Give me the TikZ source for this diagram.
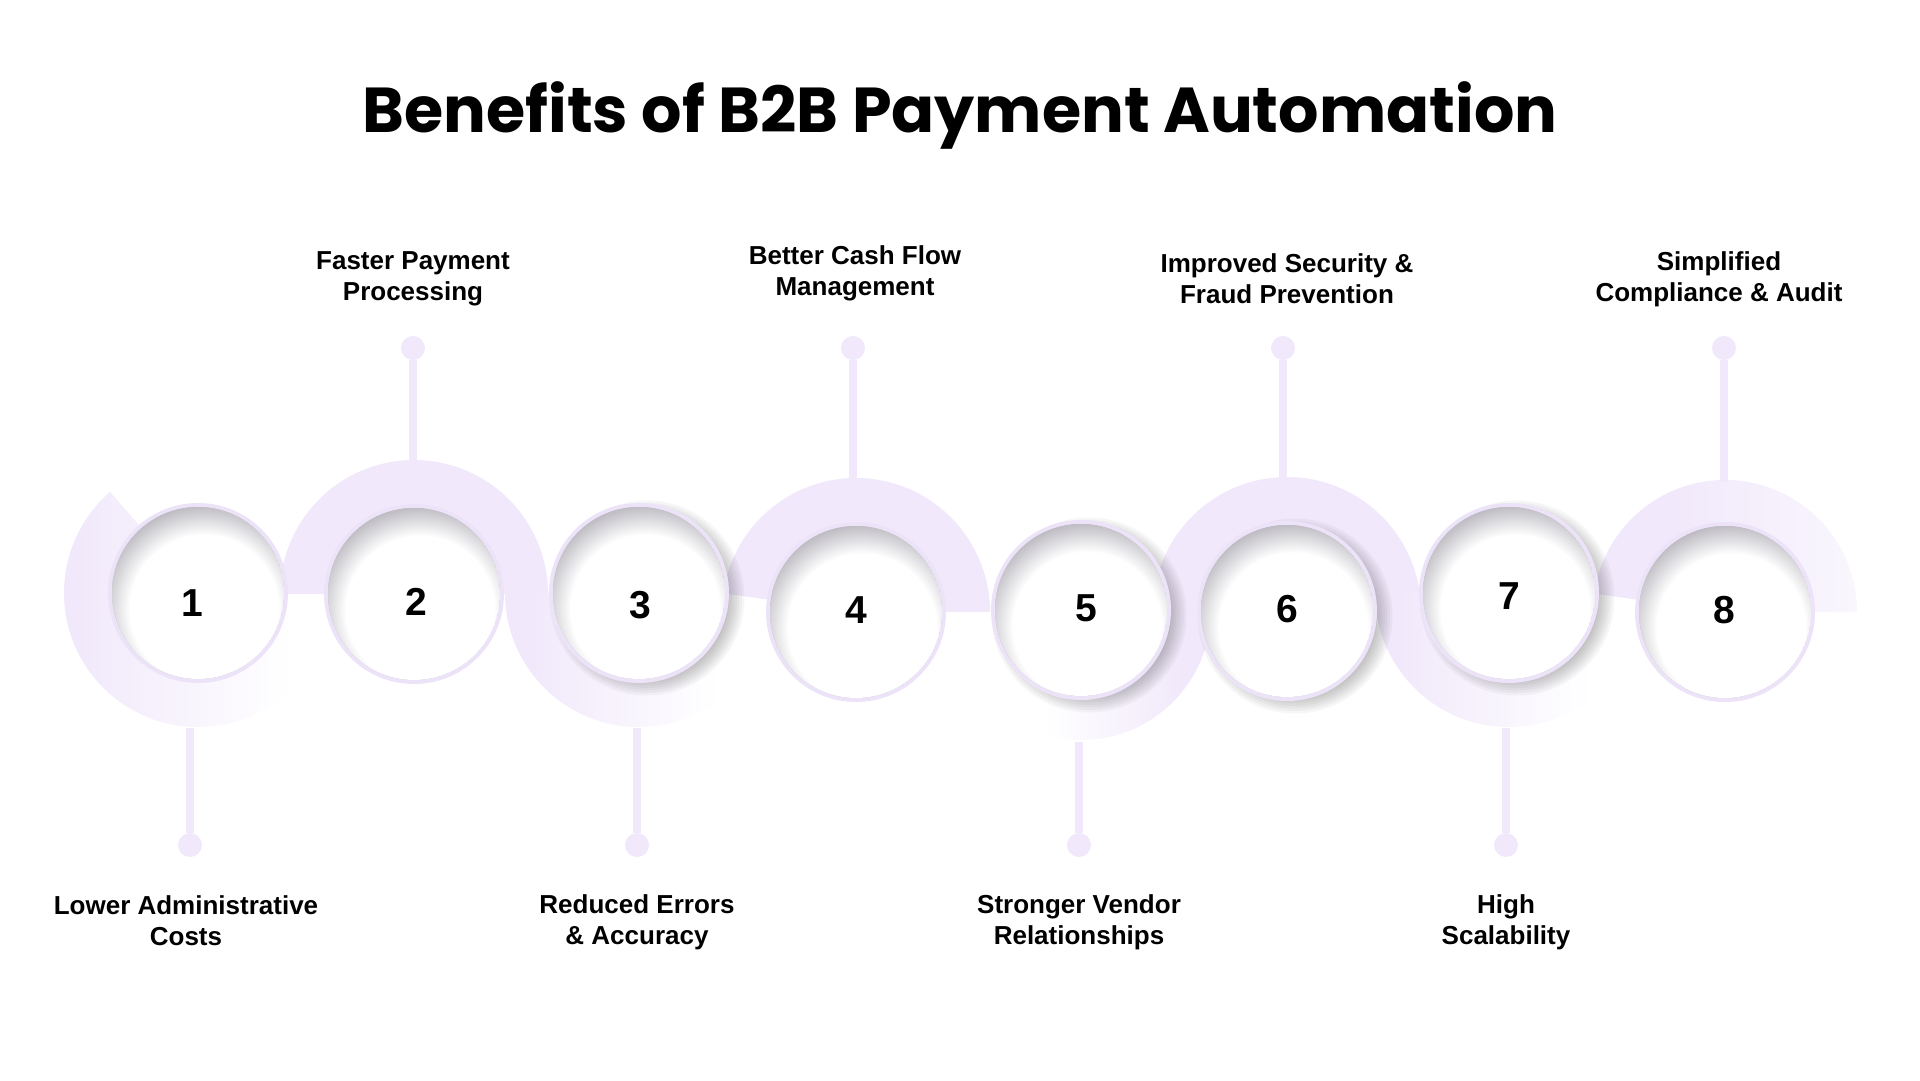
\documentclass[tikz,border=0pt]{standalone}
\usepackage{fontspec}
\setmainfont{Liberation Sans}
\newfontfamily\titlefont{Poppins}
\definecolor{lil}{RGB}{241,233,251}
\definecolor{ringc}{RGB}{236,227,249}
\definecolor{shd}{RGB}{184,182,189}
\colorlet{lilfade}{lil!40!white}
\colorlet{shdmid}{shd!50!white}
\pgfdeclarehorizontalshading{fadeR}{100bp}{color(0bp)=(lil); color(30bp)=(lil); color(68bp)=(white); color(100bp)=(white)}
\pgfdeclarehorizontalshading{fadeL}{100bp}{color(0bp)=(white); color(36bp)=(white); color(68bp)=(lil); color(100bp)=(lil)}
\pgfdeclarehorizontalshading{fadeS}{100bp}{color(0bp)=(lil); color(40bp)=(lil); color(75bp)=(lilfade); color(100bp)=(lilfade)}
\pgfdeclareradialshading{innersh}{\pgfpoint{0bp}{0bp}}{color(0bp)=(white); color(17.5bp)=(white); color(21.2bp)=(shdmid); color(25bp)=(shd); color(50bp)=(shd)}
\def\ringsec#1#2#3#4#5#6{(#1,#2) ++(#5:#4) arc[start angle=#5,end angle=#6,radius=#4] -- ++({#6+180}:{#4-#3}) arc[start angle=#6,end angle=#5,radius=#3] -- cycle}
\newcommand\mybubble[2]{%
  \fill[ringc] (#1,#2) circle (90);
  \begin{scope}
    \clip (#1,#2) circle (86);
    \fill[shd] (#1,#2) circle (86);
    \shade[shading=innersh] ({#1+6},{#2+16}) circle (106);
  \end{scope}}
\newcommand\mydshadow[2]{%
  \foreach \k in {0,...,7}{\fill[black,opacity=0.035] ({#1+8},{#2+5}) circle ({80+2.5*\k});}}
\tikzset{
  stem/.style={draw=lil, line width=7.5pt},
  dotn/.style={circle, fill=lil, minimum size=24pt, inner sep=0pt},
  lbl/.style={font=\bfseries\fontsize{26}{31}\selectfont, align=center, inner sep=0pt},
  num/.style={font=\bfseries\fontsize{39}{44}\selectfont, inner sep=0pt}
}
\begin{document}
\begin{tikzpicture}[x=1pt,y=1pt,yscale=-1]
\useasboundingbox (0,0) rectangle (1920,1080);
\fill[white] (0,0) rectangle (1920,1080);
% wave bands
\shade[shading=fadeR] \ringsec{198}{593}{86}{134}{229}{0};
\fill[lil] \ringsec{414}{594}{86}{134}{180}{360};
\shade[shading=fadeR] \ringsec{639}{593}{86}{134}{180}{30};
\fill[lil] \ringsec{856}{612}{86}{134}{188}{360};
\shade[shading=fadeL] \ringsec{1081}{610}{86}{130}{0}{130};
\fill[lil] \ringsec{1287}{611}{86}{134}{180}{360};
\shade[shading=fadeR] \ringsec{1509}{593}{86}{134}{180}{30};
\shade[shading=fadeS] \ringsec{1725}{612}{86}{132}{188}{360};
% stems
\node[dotn] (d2) at (413,348) {}; \coordinate (e2) at (413,462); \draw[stem] (d2) -- (e2);
\node[dotn] (d4) at (853,348) {}; \coordinate (e4) at (853,480); \draw[stem] (d4) -- (e4);
\node[dotn] (d6) at (1283,348) {}; \coordinate (e6) at (1283,479); \draw[stem] (d6) -- (e6);
\node[dotn] (d8) at (1724,348) {}; \coordinate (e8) at (1724,482); \draw[stem] (d8) -- (e8);
\node[dotn] (d1) at (190,845) {}; \coordinate (e1) at (190,728); \draw[stem] (e1) -- (d1);
\node[dotn] (d3) at (637,845) {}; \coordinate (e3) at (637,728); \draw[stem] (e3) -- (d3);
\node[dotn] (d5) at (1079,845) {}; \coordinate (e5) at (1079,742); \draw[stem] (e5) -- (d5);
\node[dotn] (d7) at (1506,845) {}; \coordinate (e7) at (1506,728); \draw[stem] (e7) -- (d7);
% drop shadows
\mydshadow{639}{593}
\mydshadow{1081}{610}
\mydshadow{1287}{611}
\mydshadow{1509}{593}
% circles
\mybubble{198}{593}
\mybubble{414}{594}
\mybubble{639}{593}
\mybubble{856}{612}
\mybubble{1081}{610}
\mybubble{1287}{611}
\mybubble{1509}{593}
\mybubble{1725}{612}
% numbers
\node[num] (n1) at (192,603) {1};
\node[num] (n2) at (416,602) {2};
\node[num] (n3) at (640,605) {3};
\node[num] (n4) at (856,610) {4};
\node[num] (n5) at (1086,608) {5};
\node[num] (n6) at (1287,609) {6};
\node[num] (n7) at (1509,596) {7};
\node[num] (n8) at (1724,610) {8};
% labels
\node[lbl] (t2) at (413,279) {Faster Payment\\Processing};
\node[lbl] (t4) at (855,273) {Better Cash Flow\\Management};
\node[lbl] (t6) at (1287,279) {Improved Security \&\\Fraud Prevention};
\node[lbl] (t8) at (1719,279) {Simplified\\Compliance \& Audit};
\node[lbl] (t1) at (186,921) {Lower Administrative\\Costs};
\node[lbl] (t3) at (637,922) {Reduced Errors\\\& Accuracy};
\node[lbl] (t5) at (1079,922) {Stronger Vendor\\Relationships};
\node[lbl] (t7) at (1506,922) {High\\Scalability};
% title
\node[anchor=base, inner sep=0pt, font=\titlefont\bfseries\fontsize{63.5}{70}\selectfont] (title) at (960,132) {Benefits of B2B Payment Automation};
\end{tikzpicture}
\end{document}
